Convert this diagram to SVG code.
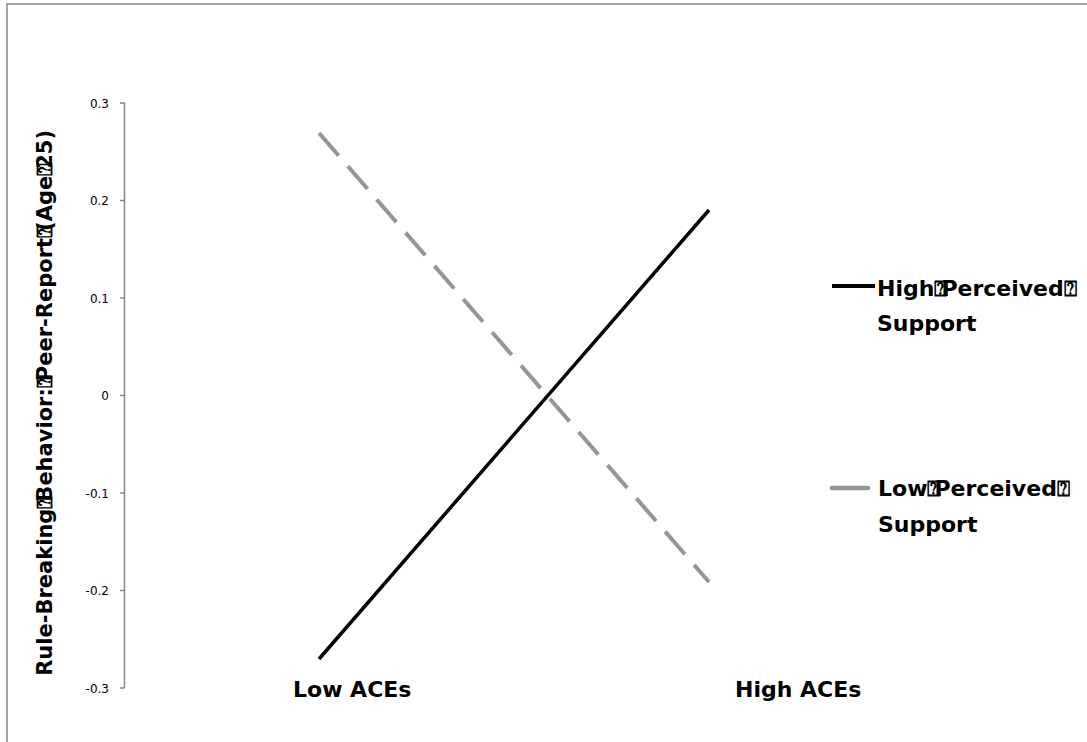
<svg xmlns="http://www.w3.org/2000/svg" width="1087" height="742" viewBox="0 0 1087 742">
<style>
.tick{font-family:"DejaVu Sans",sans-serif;font-size:12px;fill:#000;text-anchor:end}
.lab{font-family:"DejaVu Sans",sans-serif;font-size:22px;font-weight:bold;fill:#000}
.b{letter-spacing:-6px}
.ax{stroke:#868686;stroke-width:1.5;fill:none}
</style>
<rect x="0" y="0" width="1087" height="742" fill="#fff"/>
<rect x="7" y="4" width="1100" height="760" fill="none" stroke="#868686" stroke-width="1.5"/>
<g id="yaxis">
<path class="ax" d="M124.5 103V688M120 103H124.5M120 200.5H124.5M120 298H124.5M120 395.5H124.5M120 493H124.5M120 590.5H124.5M120 688H124.5"/>
<text class="tick" x="109" y="107.5">0.3</text>
<text class="tick" x="109" y="205">0.2</text>
<text class="tick" x="109" y="302.5">0.1</text>
<text class="tick" x="109" y="400">0</text>
<text class="tick" x="109" y="497.5">-0.1</text>
<text class="tick" x="109" y="595">-0.2</text>
<text class="tick" x="109" y="692.5">-0.3</text>
<text class="lab" style="font-size:21px" text-anchor="end" transform="translate(52 130) rotate(-90)">Rule-Breaking<tspan class="b">⍰</tspan>Behavior:<tspan class="b">⍰</tspan>Peer-Report<tspan class="b">⍰</tspan>(Age<tspan class="b">⍰</tspan>25)</text>
</g>
<g id="xaxis">
<text class="lab" x="293" y="697">Low ACEs</text>
<text class="lab" x="735" y="697">High ACEs</text>
</g>
<g id="connectors">
<line id="high" x1="319" y1="659" x2="709" y2="210" stroke="#000" stroke-width="3.5"/>
<line id="low" x1="319" y1="133" x2="709" y2="582" stroke="#969696" stroke-width="4" stroke-dasharray="30 14"/>
</g>
<g id="legend-high">
<line x1="832" y1="286" x2="875" y2="286" stroke="#000" stroke-width="4"/>
<text class="lab" x="877" y="296">High<tspan class="b">⍰</tspan>Perceived⍰</text>
<text class="lab" x="877" y="331">Support</text>
</g>
<g id="legend-low">
<line x1="832" y1="488" x2="868" y2="488" stroke="#969696" stroke-width="4.5" stroke-linecap="round"/>
<text class="lab" x="878" y="496">Low<tspan class="b">⍰</tspan>Perceived⍰</text>
<text class="lab" x="878" y="532">Support</text>
</g>
</svg>
